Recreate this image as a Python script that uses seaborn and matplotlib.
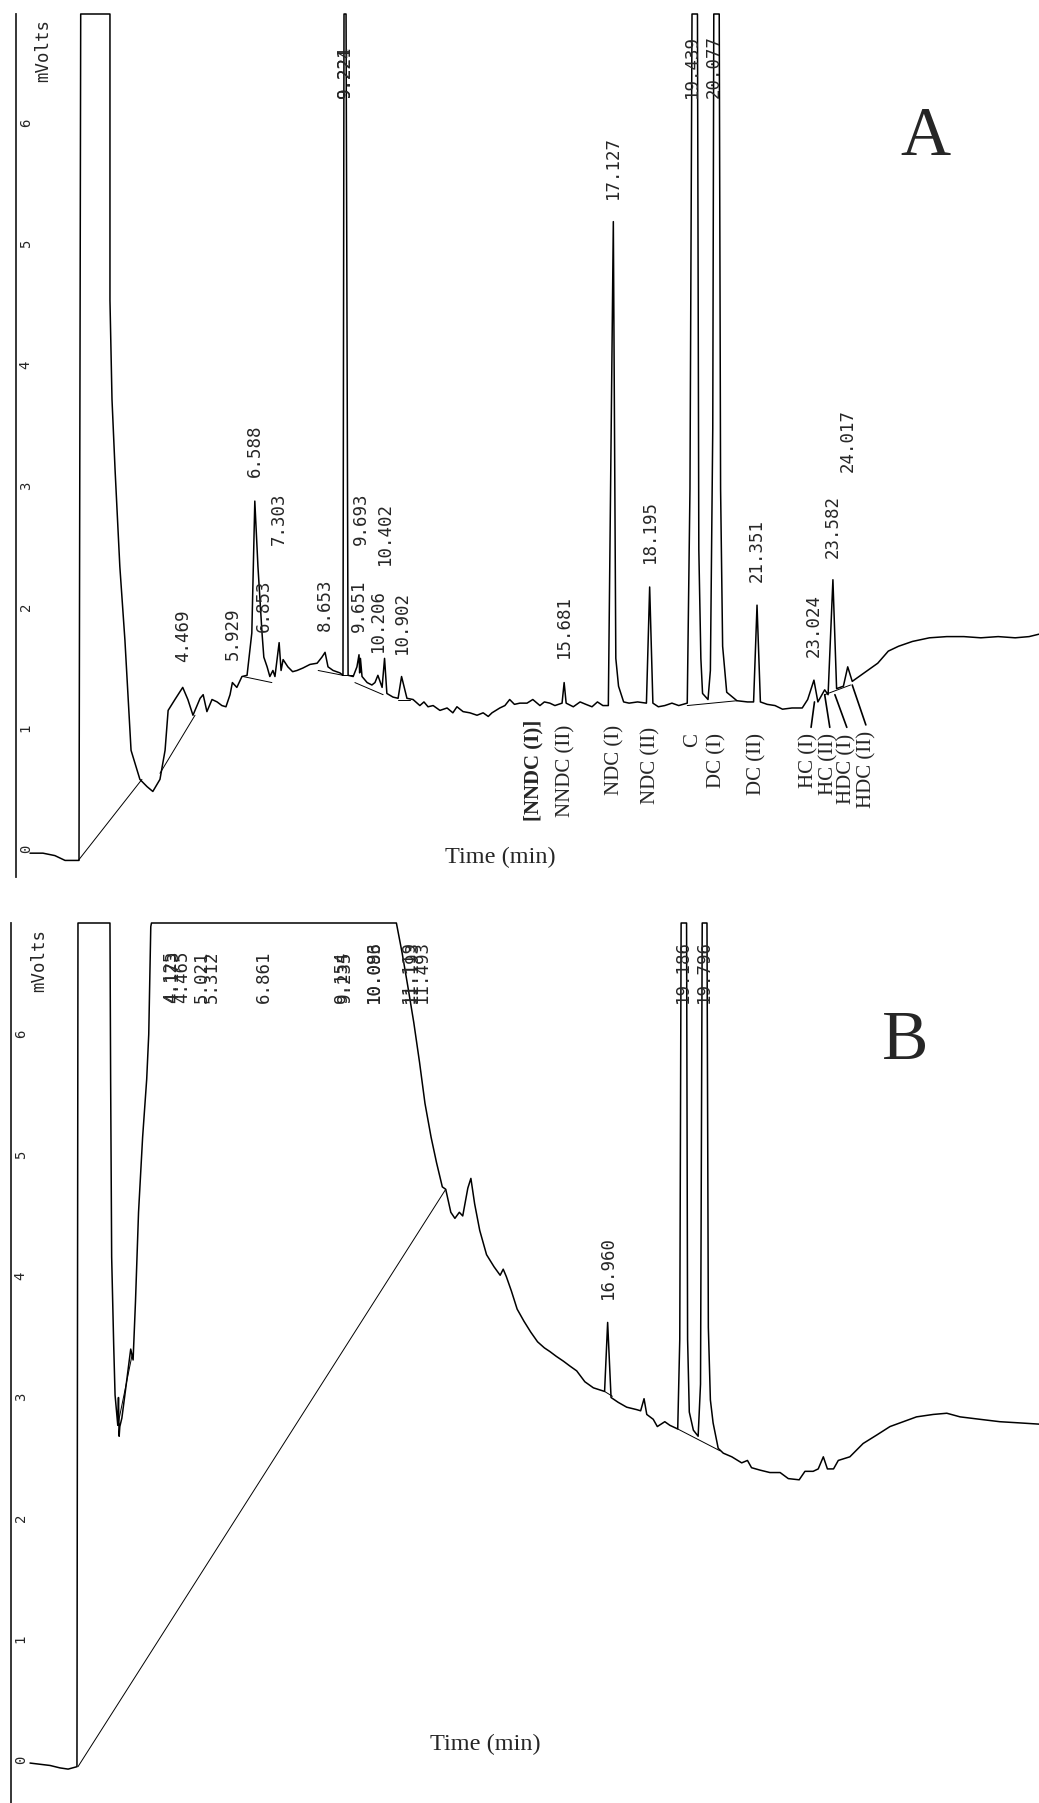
import numpy as np
import seaborn as sns
import matplotlib.pyplot as plt

# ---------------- panel A : chromatogram (time in min, signal in mV) ----------------
a_time = [-0.02, 0.36, 0.71, 1.01, 1.42,
          1.47, 2.33, 2.33, 2.39, 2.48, 2.62, 2.77, 2.95, 3.21, 3.42, 3.59,
          3.80, 3.95, 4.04, 4.24, 4.469, 4.62, 4.77, 4.98, 5.07, 5.18, 5.33, 5.48, 5.62, 5.74, 5.86, 5.929, 6.06, 6.21, 6.36,
          6.50, 6.588, 6.68, 6.80, 6.853, 6.95, 7.03, 7.12, 7.18, 7.303, 7.36, 7.42, 7.56, 7.70, 7.83, 8.00, 8.21, 8.42, 8.56, 8.653, 8.74, 8.89, 9.09, 9.18,
          9.21, 9.27, 9.33, 9.48, 9.59, 9.651, 9.67, 9.693, 9.74, 9.89, 10.03, 10.12, 10.206, 10.33, 10.402, 10.47, 10.65, 10.80, 10.902, 11.06, 11.24,
          11.44, 11.56, 11.68, 11.83, 12.03, 12.24, 12.41, 12.53, 12.71, 12.91, 13.12, 13.30, 13.45, 13.56, 13.79, 13.94, 14.08, 14.22, 14.38, 14.59, 14.76, 14.97, 15.10, 15.26, 15.41, 15.62,
          15.681, 15.74, 15.95, 16.15, 16.32, 16.50, 16.66, 16.82, 16.98, 17.127, 17.20, 17.28, 17.43, 17.59, 17.84, 18.10, 18.195, 18.29, 18.45, 18.64, 18.85, 19.05, 19.30,
          19.38, 19.44, 19.60, 19.64, 19.70, 19.75, 19.91, 19.98, 20.05, 20.08, 20.24, 20.28, 20.34, 20.46, 20.76, 21.07, 21.25, 21.351, 21.45, 21.65, 21.88, 22.10, 22.38, 22.68, 22.84,
          23.024, 23.14, 23.34, 23.44, 23.582, 23.69, 23.89, 24.017, 24.15, 24.50, 24.90, 25.21, 25.51, 25.92, 26.42, 26.93, 27.43, 27.93, 28.44, 28.94, 29.35, 29.64]
a_mv = [-0.01, -0.01, -0.03, -0.07, -0.07,
        7.2, 7.2, 4.56, 3.74, 3.16, 2.36, 1.75, 0.84, 0.60, 0.54, 0.50,
        0.60, 0.84, 1.17, 1.26, 1.36, 1.26, 1.13, 1.27, 1.30, 1.16, 1.26, 1.24, 1.21, 1.20, 1.30, 1.40, 1.36, 1.45, 1.46,
        1.81, 2.90, 2.36, 1.81, 1.61, 1.53, 1.45, 1.50, 1.45, 1.73, 1.50, 1.59, 1.53, 1.49, 1.50, 1.52, 1.55, 1.56, 1.61, 1.65, 1.53, 1.50, 1.48, 1.46,
        7.2, 7.2, 1.46, 1.45, 1.53, 1.63, 1.48, 1.60, 1.45, 1.40, 1.38, 1.40, 1.46, 1.36, 1.60, 1.31, 1.28, 1.27, 1.45, 1.27, 1.26,
        1.21, 1.24, 1.20, 1.21, 1.17, 1.19, 1.15, 1.20, 1.16, 1.15, 1.13, 1.15, 1.12, 1.15, 1.19, 1.21, 1.26, 1.22, 1.23, 1.23, 1.26, 1.21, 1.24, 1.23, 1.21, 1.23,
        1.40, 1.23, 1.20, 1.24, 1.22, 1.20, 1.24, 1.21, 1.21, 5.21, 1.60, 1.37, 1.24, 1.23, 1.24, 1.23, 2.19, 1.23, 1.20, 1.21, 1.23, 1.21, 1.23,
        3.00, 7.2, 7.2, 2.50, 1.60, 1.31, 1.26, 1.50, 3.50, 7.2, 7.2, 3.00, 1.70, 1.32, 1.25, 1.24, 1.24, 2.04, 1.24, 1.22, 1.21, 1.18, 1.19, 1.19, 1.26,
        1.42, 1.24, 1.34, 1.30, 2.25, 1.35, 1.37, 1.53, 1.41, 1.48, 1.56, 1.66, 1.70, 1.74, 1.77, 1.78, 1.78, 1.77, 1.78, 1.77, 1.78, 1.80]

# integrator baselines drawn under the peaks (start t, start mV, end t, end mV)
a_base_t0 = [1.40, 3.80, 6.24, 8.45, 9.15, 9.53, 10.80, 19.30, 23.34]
a_base_v0 = [-0.07, 0.65, 1.45, 1.50, 1.46, 1.40, 1.26, 1.21, 1.30]
a_base_t1 = [3.27, 4.83, 7.09, 9.18, 9.48, 10.36, 11.15, 20.76, 24.10]
a_base_v1 = [0.60, 1.13, 1.40, 1.46, 1.46, 1.30, 1.26, 1.25, 1.38]

a_peak_labels = ["4.469", "5.929", "6.588", "6.853", "7.303", "8.653", "9.221", "9.224", "9.651", "9.693",
                 "10.206", "10.402", "10.902", "15.681", "17.127", "18.195", "19.439", "20.077", "21.351",
                 "23.024", "23.582", "24.017"]
a_label_y = [1.57, 1.59, 3.10, 1.82, 2.54, 1.83, 6.23, 6.23, 1.82, 2.54,
             1.65, 2.37, 1.64, 1.60, 5.40, 2.39, 6.23, 6.23, 2.23,
             1.61, 2.43, 3.14]

a_compounds = ["[NNDC (I)]", "NNDC (II)", "NDC (I)", "NDC (II)", "C", "DC (I)", "DC (II)",
               "HC (I)", "HC (II)", "HDC (I)", "HDC (II)"]
a_compound_t = [14.79, 15.72, 17.18, 18.24, 19.45, 20.16, 21.35, 22.88, 23.45, 24.00, 24.58]
a_compound_top = [1.09, 1.05, 1.05, 1.03, 0.98, 0.98, 0.98, 0.98, 0.98, 0.98, 1.00]

# leader lines from the HC / HDC names to their peaks
a_lead_t0 = [22.94, 23.49, 23.99, 24.55]
a_lead_v0 = [1.03, 1.03, 1.03, 1.05]
a_lead_t1 = [23.04, 23.34, 23.64, 24.15]
a_lead_v1 = [1.24, 1.30, 1.30, 1.38]

# ---------------- panel B ----------------
b_time = [-0.02, 0.57, 0.86, 1.10, 1.36, 1.39, 2.33,
          2.35, 2.38, 2.44, 2.48, 2.56, 2.58, 2.60, 2.62, 2.68, 2.80, 2.89, 2.94, 3.01, 3.08, 3.17, 3.29, 3.41, 3.47, 3.53, 3.55,
          10.72, 10.75, 10.92, 11.09, 11.26, 11.43, 11.59, 11.77, 11.93, 12.10, 12.20, 12.35, 12.47, 12.60, 12.70, 12.85, 12.94, 13.05, 13.20, 13.40, 13.62, 13.80, 13.89, 13.98,
          14.13, 14.30, 14.50, 14.70, 14.90, 15.10, 15.26, 15.45, 15.66, 15.85, 16.05, 16.29, 16.54, 16.87, 16.96, 17.06, 17.27, 17.52, 17.81, 17.93, 18.03, 18.11, 18.30, 18.42, 18.64, 18.79, 19.02,
          19.08, 19.12, 19.28, 19.31, 19.36, 19.48, 19.62, 19.69, 19.74, 19.88, 19.92, 19.98, 20.06, 20.21, 20.36, 20.61, 20.90, 21.07, 21.19, 21.44, 21.73, 22.03, 22.27, 22.59, 22.76, 23.00, 23.15, 23.30, 23.42, 23.60, 23.74,
          24.08, 24.47, 24.87, 25.26, 25.65, 26.04, 26.53, 26.93, 27.32, 27.90, 28.49, 29.08, 29.64]
b_mv = [0.00, -0.02, -0.04, -0.05, -0.03, 7.2, 7.2,
        5.64, 4.18, 3.45, 3.04, 2.79, 3.02, 2.70, 2.78, 2.85, 3.11, 3.31, 3.42, 3.33, 3.81, 4.55, 5.17, 5.65, 6.02, 6.91, 7.2,
        7.2, 6.94, 6.69, 6.41, 6.12, 5.79, 5.45, 5.17, 4.96, 4.76, 4.74, 4.55, 4.50, 4.55, 4.52, 4.75, 4.83, 4.62, 4.40, 4.20, 4.10, 4.03, 4.08, 4.02,
        3.90, 3.75, 3.65, 3.56, 3.48, 3.43, 3.40, 3.36, 3.32, 3.28, 3.24, 3.15, 3.10, 3.07, 3.64, 3.02, 2.98, 2.94, 2.92, 2.91, 3.01, 2.88, 2.84, 2.78, 2.82, 2.79, 2.76,
        3.50, 7.2, 7.2, 3.50, 2.90, 2.75, 2.70, 3.13, 7.2, 7.2, 3.60, 3.00, 2.81, 2.60, 2.56, 2.53, 2.48, 2.50, 2.44, 2.42, 2.40, 2.40, 2.35, 2.34, 2.41, 2.41, 2.43, 2.53, 2.43, 2.43, 2.50,
        2.53, 2.64, 2.71, 2.78, 2.82, 2.86, 2.88, 2.89, 2.86, 2.84, 2.82, 2.81, 2.80]

b_base_t0 = [1.39, 2.56, 16.87, 19.02]
b_base_v0 = [-0.03, 2.79, 3.07, 2.76]
b_base_t1 = [12.20, 2.98, 17.10, 20.26]
b_base_v1 = [4.74, 3.37, 3.03, 2.58]

b_peak_labels = ["4.125", "4.173", "4.465", "5.021", "5.312", "6.861", "9.154", "9.235",
                 "10.083", "10.096", "11.119", "11.193", "11.493", "16.960", "19.186", "19.796"]
b_label_y = [6.28, 6.28, 6.28, 6.28, 6.28, 6.28, 6.28, 6.28,
             6.28, 6.28, 6.28, 6.28, 6.28, 3.83, 6.28, 6.28]

assert len(a_time) == len(a_mv) and len(b_time) == len(b_mv)

sns.set_style("white")
plt.rcParams['font.family'] = ['DejaVu Sans Mono', 'DejaVu Sans']
SERIF = 'Liberation Serif'

W, H = 1039, 1803
fig = plt.figure(figsize=(W / 100, H / 100), dpi=100)
ax_a = fig.add_axes([16 / W, 1 - 877 / H, 1023 / W, 863 / H])
ax_b = fig.add_axes([11 / W, 0, 1028 / W, 880 / H])


def draw_panel(ax, t, mv, ylim, xlim, base, labels, label_y, letter, letter_pos, time_pos, mvolts_pos):
    ax.set_xlim(*xlim)
    ax.set_ylim(*ylim)
    # off-scale peaks are flattened at the top of the recorder scale
    sig = np.minimum(np.asarray(mv), ylim[1])
    sns.lineplot(x=t, y=sig, ax=ax, color='black', lw=1.1, estimator=None, sort=False)
    ax.lines[-1].set_clip_on(False)
    for t0, v0, t1, v1 in zip(*base):
        sns.lineplot(x=[t0, t1], y=[v0, v1], ax=ax, color='black', lw=0.7, estimator=None, sort=False)
    for lab, y in zip(labels, label_y):
        ax.text(float(lab), y, lab, rotation=90, ha='center', va='bottom', fontsize=12.5)

    ax.set_xticks([])
    ax.set_yticks(range(7))
    ax.tick_params(axis='y', direction='in', length=4, width=1, labelleft=False)
    for tick in ax.get_yticks():
        ax.annotate(f"{int(tick)}", xy=(0, tick), xycoords=ax.get_yaxis_transform(),
                    xytext=(2, -1), textcoords='offset points', rotation=90,
                    ha='left', va='bottom', fontsize=10)
    sns.despine(ax=ax, top=True, right=True, bottom=True, left=False)
    ax.spines['left'].set_linewidth(1.3)
    ax.set_xlabel('')
    ax.set_ylabel('')
    ax.text(*mvolts_pos, 'mVolts', transform=ax.transAxes, rotation=90, ha='center', va='center', fontsize=12.5)
    ax.text(*time_pos, 'Time (min)', transform=ax.transAxes, ha='center', va='center', family=SERIF, fontsize=17.5)
    ax.text(*letter_pos, letter, transform=ax.transAxes, ha='center', va='center', family=SERIF, fontsize=50)


draw_panel(ax_a, a_time, a_mv, (-0.207, 6.926), (-0.432, 29.64),
           (a_base_t0, a_base_v0, a_base_t1, a_base_v1), a_peak_labels, a_label_y,
           'A', (0.889, 0.856), (0.473, 0.023), (0.027, 0.958))
draw_panel(ax_b, b_time, b_mv, (-0.33, 6.94), (-0.579, 29.64),
           (b_base_t0, b_base_v0, b_base_t1, b_base_v1), b_peak_labels, b_label_y,
           'B', (0.870, 0.864), (0.461, 0.066), (0.027, 0.957))

for name, t, top in zip(a_compounds, a_compound_t, a_compound_top):
    ax_a.text(t, top, name, rotation=90, ha='center', va='top', family=SERIF, fontsize=15,
              fontweight='bold' if name.startswith('[') else 'normal')
for t0, v0, t1, v1 in zip(a_lead_t0, a_lead_v0, a_lead_t1, a_lead_v1):
    sns.lineplot(x=[t0, t1], y=[v0, v1], ax=ax_a, color='black', lw=1.2, estimator=None, sort=False)

fig.savefig('out.png', dpi=100, facecolor='white')
